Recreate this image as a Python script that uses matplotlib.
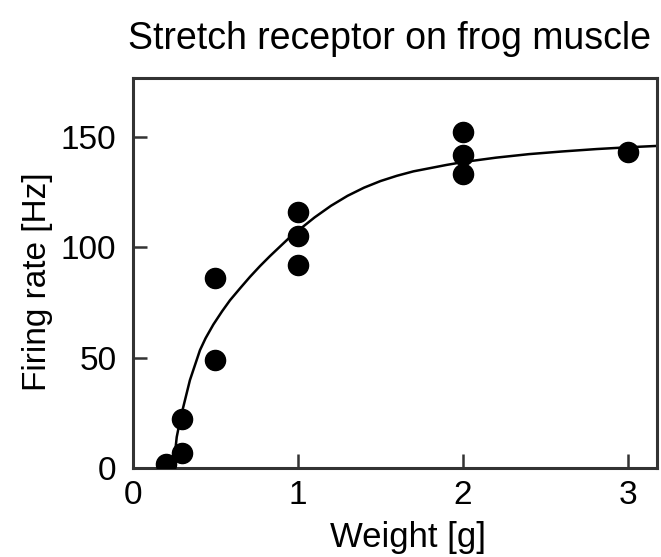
import matplotlib
matplotlib.use("Agg")
import matplotlib.pyplot as plt

# measured firing rates of the stretch receptor
weight = [0.2, 0.3, 0.3, 0.5, 0.5, 1.0, 1.0, 1.0, 2.0, 2.0, 2.0, 3.0]
rate = [2, 7, 22, 49, 86, 92, 105, 116, 152, 142, 133, 143]

# fitted curve through the data
fit_w = [0.245, 0.265, 0.285, 0.305, 0.345, 0.406, 0.44, 0.487, 0.54, 0.588,
         0.65, 0.709, 0.77, 0.83, 0.95, 1.1, 1.2, 1.3, 1.4, 1.5, 1.6, 1.7, 1.9,
         2.0, 2.2, 2.4, 2.6, 2.81, 3.0, 3.17]
fit_r = [0, 14, 21.5, 27.7, 39.8, 53.4, 58.8, 65, 71, 76,
         81.5, 86.6, 91.5, 96, 104.5, 113.5, 118.8, 123.3, 127, 130, 132.4, 134.4, 137.3,
         138.6, 140.6, 142.2, 143.4, 144.5, 145.3, 145.9]

xticks = [0, 1, 2, 3]
yticks = [0, 50, 100, 150]

plt.rcParams['font.family'] = ['Liberation Sans', 'DejaVu Sans']

fig = plt.figure(figsize=(6.61, 5.57), dpi=100)
ax = fig.add_axes([0.2012, 0.1598, 0.7928, 0.7002])

ax.plot(fit_w, fit_r, color='black', lw=1.8, zorder=2, solid_joinstyle='round')
ax.plot(weight, rate, 'o', color='black', ms=14.5, zorder=3)

ax.set_xlim(0, 3.176)
ax.set_ylim(0, 176.7)
ax.set_xticks(xticks)
ax.set_yticks(yticks)
ax.tick_params(direction='in', length=10, width=1.8, color='#333333',
               labelsize=24)
ax.tick_params(axis='y', pad=12)
ax.tick_params(axis='x', pad=9)
for s in ax.spines.values():
    s.set_linewidth(2.2)
    s.set_color('#333333')

ax.set_xlabel('Weight [g]', fontsize=25)
ax.set_ylabel('Firing rate [Hz]', fontsize=24)
ax.xaxis.set_label_coords(0.525, -0.135)
ax.yaxis.set_label_coords(-0.152, 0.477)

fig.text(0.59, 0.93, 'Stretch receptor on frog muscle',
         fontsize=27, ha='center', va='center')

fig.savefig('out.png', dpi=100)
